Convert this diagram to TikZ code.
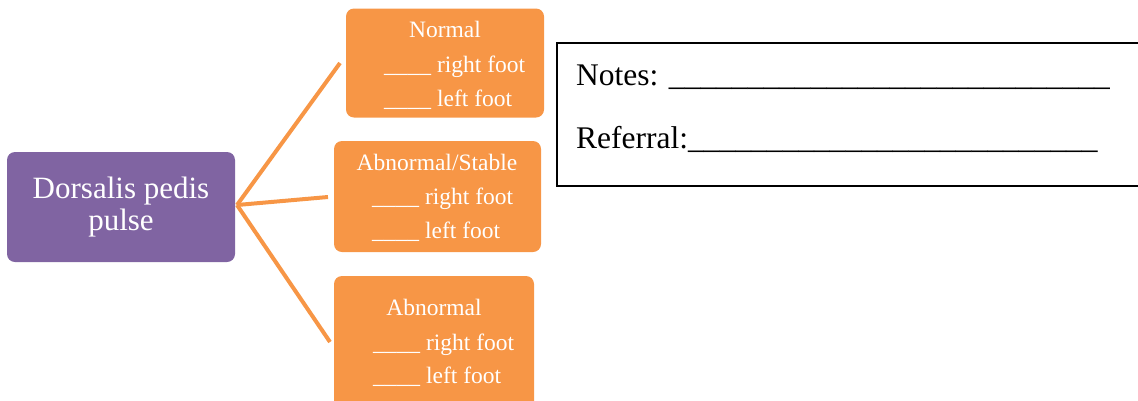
\documentclass[tikz,border=0pt]{standalone}
\usepackage{fontspec}
\setmainfont{Liberation Serif}
\definecolor{oboxc}{HTML}{F79646}
\definecolor{pboxc}{HTML}{8064A2}
\tikzset{
  pbox/.style={fill=pboxc, rounded corners=8pt, inner sep=0pt, minimum width=228pt, minimum height=110pt, text=white, align=center, font=\fontsize{31}{32}\selectfont},
  obox/.style={fill=oboxc, rounded corners=8pt, inner sep=0pt},
  otext/.style={text=white, inner sep=0pt, font=\fontsize{23.5}{28}\selectfont},
  ntext/.style={text=black, inner sep=0pt, anchor=base west, font=\fontsize{31.5}{36}\selectfont},
  conn/.style={draw=oboxc, line width=4pt},
  notebox/.style={draw=black, line width=1.8pt, inner sep=0pt, minimum width=593pt, minimum height=143pt}
}
\begin{document}
\begin{tikzpicture}[x=1pt,y=-1pt]
\useasboundingbox (0,0) rectangle (1138,400);
% central node
\node[pbox] (dp) at (121,207) {Dorsalis pedis\\pulse};
% orange boxes
\node[obox, minimum width=198pt, minimum height=109pt] (n) at (445,63) {};
\node[obox, minimum width=207pt, minimum height=111pt] (as) at (437.5,196.5) {};
\node[obox, minimum width=200pt, minimum height=134pt] (ab) at (434,343) {};
% texts
\node[otext, anchor=base] (nt) at (445,37) {Normal};
\node[otext, anchor=base west] (nr) at (384,72) {\_\_\_\_ right foot};
\node[otext, anchor=base west] (nl) at (384,106) {\_\_\_\_ left foot};
\node[otext, anchor=base] (ast) at (437,170) {Abnormal/Stable};
\node[otext, anchor=base west] (asr) at (372,204) {\_\_\_\_ right foot};
\node[otext, anchor=base west] (asl) at (372,238) {\_\_\_\_ left foot};
\node[otext, anchor=base] (abt) at (434,315) {Abnormal};
\node[otext, anchor=base west] (abr) at (373,350) {\_\_\_\_ right foot};
\node[otext, anchor=base west] (abl) at (373,383) {\_\_\_\_ left foot};
% connectors
\coordinate (hub) at (237,205);
\coordinate (e1) at (340,63);
\coordinate (e2) at (328,197);
\coordinate (e3) at (330,342);
\draw[conn] (hub) -- (e1);
\draw[conn] (hub) -- (e2);
\draw[conn] (hub) -- (e3);
% notes box
\node[notebox] (notes) at (853.5,114.5) {};
\node[ntext] (nn) at (576,85) {Notes: \_\_\_\_\_\_\_\_\_\_\_\_\_\_\_\_\_\_\_\_\_\_\_\_\_\_\_\_};
\node[ntext] (rf) at (576,148) {Referral:\_\_\_\_\_\_\_\_\_\_\_\_\_\_\_\_\_\_\_\_\_\_\_\_\_\_};
\end{tikzpicture}
\end{document}
